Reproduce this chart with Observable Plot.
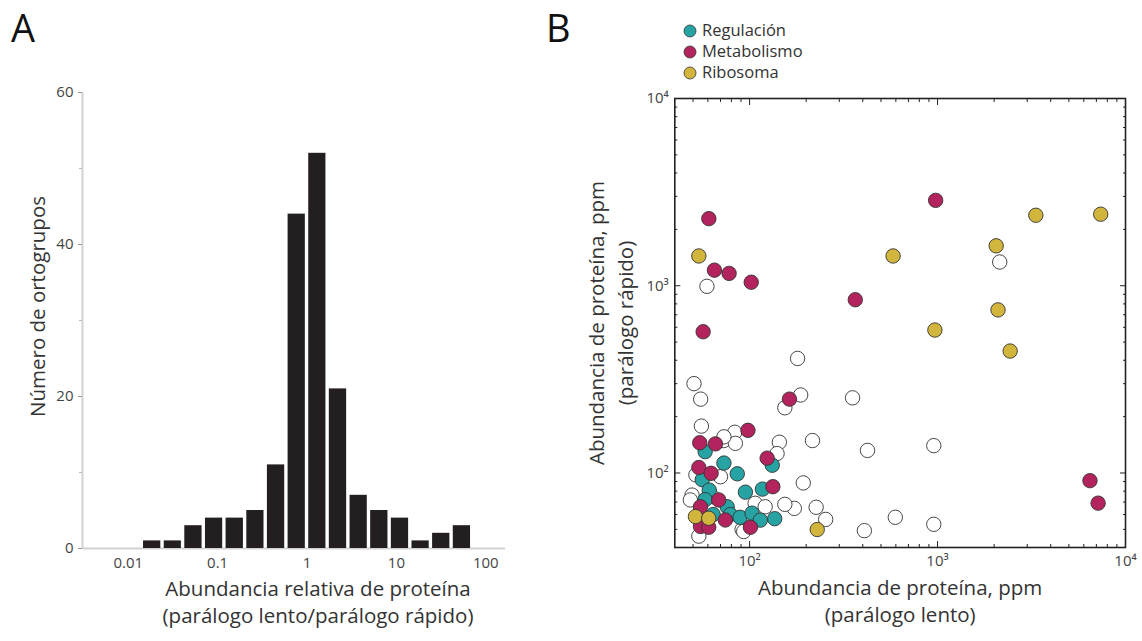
<!DOCTYPE html>
<html><head><meta charset="utf-8">
<script src="https://cdn.jsdelivr.net/npm/d3@7"></script>
<script src="https://cdn.jsdelivr.net/npm/@observablehq/plot@0.6"></script>
<style>
body{margin:0;background:#fff;font-family:"Open Sans",sans-serif;}
#wrap{position:relative;width:1142px;height:641px;overflow:hidden;background:#fff;}
.panel{position:absolute;top:0;}
.plabel{position:absolute;font-size:38px;color:#111;font-family:"Open Sans",sans-serif;line-height:1;}
#legend{position:absolute;left:683px;top:20px;font-size:16.5px;color:#333;line-height:1.1;}
#legend .row{height:21px;display:flex;align-items:center;}
#legend span{line-height:1.1;display:inline-block;}
#legend svg{margin-right:5px;}
</style></head><body>
<div id="wrap">
  <div class="plabel" style="left:11px;top:8px;">A</div>
  <div class="plabel" style="left:546px;top:8px;">B</div>
  <div id="panelA" class="panel" style="left:0px;"></div>
  <div id="panelB" class="panel" style="left:560px;"></div>
  <div id="legend"></div>
</div>
<script>
// ---------- Panel A: histogram ----------
const binEdges = [0.0142, 0.0242, 0.0411, 0.0700, 0.119, 0.203, 0.345, 0.588, 1, 1.70, 2.90, 4.93, 8.40, 14.3, 24.3, 41.4, 70.5];
const binCounts = [1, 1, 3, 4, 4, 5, 11, 44, 52, 21, 7, 5, 4, 1, 2, 3];
const xTicksA = [0.01, 0.1, 1, 10, 100];
const yTicksA = [0, 20, 40, 60];
const yMinorA = [10, 30, 50];
const xDomainA = [0.00308, 166];
const titleA = ["Abundancia relativa de proteína", "(parálogo lento/parálogo rápido)"];
const yTitleA = "Número de ortogrupos";

// ---------- Panel B: scatter ----------
const categories = ["Regulación", "Metabolismo", "Ribosoma"];
const catColors = ["#27a3a3", "#b3245e", "#d2b53c"];

const regX = [58, 132, 73, 86, 56, 61, 95, 117, 76, 79, 89, 103, 114, 136, 64, 58];
const regY = [130, 110, 113, 99, 92, 81, 79, 82, 66, 60, 58, 61, 56, 57, 60, 72];

const metX = [977, 60.7, 65, 77.8, 102, 365, 56.6, 163, 98, 6470, 7150, 54.3, 65.8, 124, 53.7, 62.4, 133, 68.5, 54.8, 54.8, 60.6, 74.3, 101];
const metY = [2858, 2282, 1211, 1164, 1044, 842, 568, 248, 169, 91, 69, 145, 143, 120, 107, 99.6, 84.5, 71.8, 66, 51.8, 51.3, 56.1, 51.3];

const riboX = [53.7, 580, 3334, 7380, 2051, 2098, 968, 2434, 229, 51.5, 60.6];
const riboY = [1442, 1442, 2379, 2410, 1634, 743, 580, 448, 49.9, 58.5, 57.3];

const otherX = [2142, 59.3, 180, 187, 154, 50.6, 54.9, 353, 216, 424, 955, 55.4, 144, 193, 596, 955, 408, 226, 254, 173, 154, 91.2, 83.4, 72.8, 51.8, 49.4, 140, 84, 73, 93, 53.7, 48.4, 63.2, 70, 107, 121];
const otherY = [1339, 993, 409, 261, 223, 300, 248, 252, 149, 132, 140, 178, 146, 88.5, 58, 53.2, 49.2, 65.6, 56.5, 64.7, 68, 49.9, 165, 149, 97.7, 76.2, 127, 144, 156, 48.7, 46, 71.8, 74.8, 95.5, 68.9, 66];

const majorB = [100, 1000, 10000];
const minorB = [50, 60, 70, 80, 90, 200, 300, 400, 500, 600, 700, 800, 900, 2000, 3000, 4000, 5000, 6000, 7000, 8000, 9000];
const domainB = [40, 10000];
const xTitleB = ["Abundancia de proteína, ppm", "(parálogo lento)"];
const yTitleB = ["Abundancia de proteína, ppm", "(parálogo rápido)"];

const FONT = "Open Sans, sans-serif";
const TITLE = 20.5;
const sup = {"0":"⁰","1":"¹","2":"²","3":"³","4":"⁴","5":"⁵","6":"⁶","7":"⁷","8":"⁸","9":"⁹"};
const powFmt = d => "10" + String(Math.round(Math.log10(d))).split("").map(c => sup[c]).join("");

// Panel A
const histo = binCounts.map((n, i) => ({lo: binEdges[i], hi: binEdges[i + 1], n}));
const plotA = Plot.plot({
  width: 545, height: 641,
  marginLeft: 82, marginRight: 40, marginTop: 92, marginBottom: 93,
  style: {fontFamily: FONT, fontSize: "15px", color: "#333", background: "transparent", overflow: "visible"},
  x: {type: "log", domain: xDomainA},
  y: {domain: [0, 60]},
  marks: [
    Plot.ruleX([xDomainA[0]], {y1: 0, y2: 60, stroke: "#d2d2d2", strokeWidth: 2}),
    Plot.ruleY([0], {stroke: "#d2d2d2", strokeWidth: 2}),
    Plot.rectY(histo, {x1: "lo", x2: "hi", y: "n", fill: "#231f20", insetLeft: 1.7, insetRight: 1.7}),
    Plot.axisY({ticks: yTicksA, tickSize: 4, tickPadding: 5, label: null, stroke: "#999", fill: "#444"}),
    Plot.axisY({ticks: yMinorA, tickSize: 3, text: null, label: null, stroke: "#bbb"}),
    Plot.axisX({ticks: xTicksA, tickFormat: d => String(d), tickSize: 0, tickPadding: 9, label: null, fill: "#444"}),
    Plot.text([titleA[0]], {text: d => d, frameAnchor: "bottom", dx: 24, dy: 47, fontSize: TITLE, fill: "#333"}),
    Plot.text([titleA[1]], {text: d => d, frameAnchor: "bottom", dx: 24, dy: 74, fontSize: TITLE, fill: "#333"}),
    Plot.text([yTitleA], {text: d => d, frameAnchor: "left", textAnchor: "middle", rotate: -90, dx: -44, dy: -14, fontSize: TITLE, fill: "#333"})
  ]
});
document.getElementById("panelA").appendChild(plotA);

// Panel B
const toPts = (xs, ys) => xs.map((x, i) => ({x, y: ys[i]}));
const dotStyle = {x: "x", y: "y", r: 7.2, stroke: "#333", strokeWidth: 0.9};
const plotB = Plot.plot({
  width: 582, height: 641,
  marginLeft: 114.3, marginRight: 17, marginTop: 98, marginBottom: 94,
  style: {fontFamily: FONT, fontSize: "15px", color: "#333", background: "transparent", overflow: "visible"},
  x: {type: "log", domain: domainB},
  y: {type: "log", domain: domainB},
  marks: [
    Plot.axisX({anchor: "bottom", ticks: majorB, tickSize: 6, dy: -6, text: null, label: null, stroke: "#222"}),
    Plot.axisX({anchor: "bottom", ticks: minorB, tickSize: 3, dy: -3, text: null, label: null, stroke: "#222"}),
    Plot.axisX({anchor: "top", ticks: majorB, tickSize: 6, dy: 6, text: null, label: null, stroke: "#222"}),
    Plot.axisX({anchor: "top", ticks: minorB, tickSize: 3, dy: 3, text: null, label: null, stroke: "#222"}),
    Plot.axisY({anchor: "left", ticks: majorB, tickSize: 6, dx: 6, text: null, label: null, stroke: "#222"}),
    Plot.axisY({anchor: "left", ticks: minorB, tickSize: 3, dx: 3, text: null, label: null, stroke: "#222"}),
    Plot.axisY({anchor: "right", ticks: majorB, tickSize: 6, dx: -6, text: null, label: null, stroke: "#222"}),
    Plot.axisY({anchor: "right", ticks: minorB, tickSize: 3, dx: -3, text: null, label: null, stroke: "#222"}),
    Plot.axisX({anchor: "bottom", ticks: majorB, tickSize: 0, tickPadding: 8, tickFormat: powFmt, label: null, fill: "#444"}),
    Plot.axisY({anchor: "left", ticks: majorB, tickSize: 0, tickPadding: 6, tickFormat: powFmt, label: null, fill: "#444"}),
    Plot.dot(toPts(otherX, otherY), {...dotStyle, fill: "white"}),
    Plot.dot(toPts(regX, regY), {...dotStyle, fill: catColors[0]}),
    Plot.dot(toPts(metX, metY), {...dotStyle, fill: catColors[1]}),
    Plot.dot(toPts(riboX, riboY), {...dotStyle, fill: catColors[2]}),
    Plot.frame({stroke: "#222", strokeWidth: 1.6}),
    Plot.text([xTitleB[0]], {text: d => d, frameAnchor: "bottom", dy: 47, fontSize: TITLE, fill: "#333"}),
    Plot.text([xTitleB[1]], {text: d => d, frameAnchor: "bottom", dy: 74, fontSize: TITLE, fill: "#333"}),
    Plot.text([yTitleB[0]], {text: d => d, frameAnchor: "left", textAnchor: "middle", rotate: -90, dx: -77, fontSize: TITLE, fill: "#333"}),
    Plot.text([yTitleB[1]], {text: d => d, frameAnchor: "left", textAnchor: "middle", rotate: -90, dx: -48, fontSize: TITLE, fill: "#333"})
  ]
});
document.getElementById("panelB").appendChild(plotB);

// Legend
const legend = document.getElementById("legend");
categories.forEach((c, i) => {
  const row = document.createElement("div");
  row.className = "row";
  row.innerHTML = `<svg width="14" height="14"><circle cx="7" cy="7" r="6" fill="${catColors[i]}" stroke="#333" stroke-width="0.8"/></svg><span>${c}</span>`;
  legend.appendChild(row);
});
</script>
</body></html>
